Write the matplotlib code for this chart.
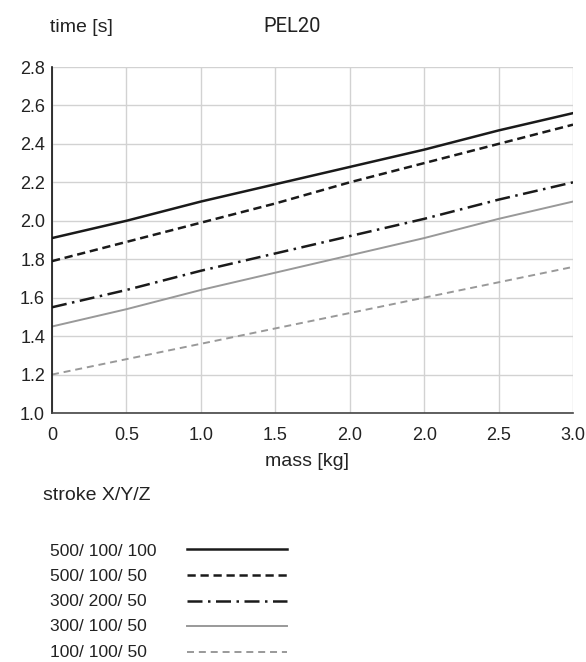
import matplotlib
matplotlib.use("Agg")
import matplotlib.pyplot as plt

plt.rcParams['font.family'] = ['Liberation Sans', 'DejaVu Sans']

x_labels = ['0', '0.5', '1.0', '1.5', '2.0', '2.0', '2.5', '3.0']
x_pos = list(range(len(x_labels)))

series_names = ['500/ 100/ 100', '500/ 100/ 50', '300/ 200/ 50', '300/ 100/ 50', '100/ 100/ 50']
s1 = [1.91, 2.00, 2.10, 2.19, 2.28, 2.37, 2.47, 2.56]
s2 = [1.79, 1.89, 1.99, 2.09, 2.20, 2.30, 2.40, 2.50]
s3 = [1.55, 1.64, 1.74, 1.83, 1.92, 2.01, 2.11, 2.20]
s4 = [1.45, 1.54, 1.64, 1.73, 1.82, 1.91, 2.01, 2.10]
s5 = [1.20, 1.28, 1.36, 1.44, 1.52, 1.60, 1.68, 1.76]

y_ticks = [1.0, 1.2, 1.4, 1.6, 1.8, 2.0, 2.2, 2.4, 2.6, 2.8]

W, H = 586, 662
fig = plt.figure(figsize=(W / 100, H / 100), dpi=100)
ax = fig.add_axes([52 / W, 1 - 413 / H, 521 / W, 346 / H])

styles = [
    dict(color='#1a1a1a', lw=1.8, ls='-'),
    dict(color='#1a1a1a', lw=1.8, ls=(0, (3.3, 1.9))),
    dict(color='#1a1a1a', lw=1.8, ls=(0, (6.0, 2.2, 1, 2.2))),
    dict(color='#999999', lw=1.4, ls='-'),
    dict(color='#999999', lw=1.4, ls=(0, (3.6, 2.5))),
]
lines = []
for ys, name, st in zip([s1, s2, s3, s4, s5], series_names, styles):
    ln, = ax.plot(x_pos, ys, label=name, **st)
    lines.append(ln)

ax.set_xlim(0, 7)
ax.set_ylim(1.0, 2.8)
ax.set_xticks(x_pos)
ax.set_xticklabels(x_labels)
ax.set_yticks(y_ticks)
ax.set_yticklabels([f'{v:.1f}' for v in y_ticks])
ax.tick_params(length=0, labelsize=13, colors='#222222')
ax.tick_params(axis='x', pad=10)
ax.tick_params(axis='y', pad=5)
ax.grid(True, color='#d2d2d2', lw=1.0)
ax.set_axisbelow(True)
for sp in ['top', 'right']:
    ax.spines[sp].set_visible(False)
ax.spines['left'].set_color('#111111')
ax.spines['left'].set_linewidth(1.2)
ax.spines['bottom'].set_color('#444444')
ax.spines['bottom'].set_linewidth(1.2)

ax.set_xlabel('mass [kg]', fontsize=14, color='#222222', va='center')
ax.xaxis.set_label_coords((307 - 52) / 521, (413 - 461) / 346)

fig.text(50 / W, 1 - 27 / H, 'time [s]', fontsize=14, color='#222222', va='center', ha='left')
fig.text(263 / W, 1 - 27 / H, 'PEL20', fontsize=14.5, color='#222222', va='center', ha='left',
         family=['Roboto', 'DejaVu Sans'])
fig.text(43 / W, 1 - 495 / H, 'stroke X/Y/Z', fontsize=14, color='#222222', va='center', ha='left')

# legend: labels on the left, samples in a column on the right
row_y = [550, 575, 600, 625, 651]
for name, yy in zip(series_names, row_y):
    fig.text(50 / W, 1 - (yy + 6) / H, name, fontsize=12.5, color='#222222',
             va='baseline', ha='left')

fs = 12.5 * 100 / 72
fig.legend(lines, [''] * len(lines), loc='upper left',
           bbox_to_anchor=(187 / W, 1 - (550 - 10) / H),
           frameon=False, fontsize=12.5, handlelength=100 / fs,
           handleheight=1.90, handletextpad=0, labelspacing=0,
           borderaxespad=0, borderpad=0)

fig.savefig('out.png', dpi=100)
